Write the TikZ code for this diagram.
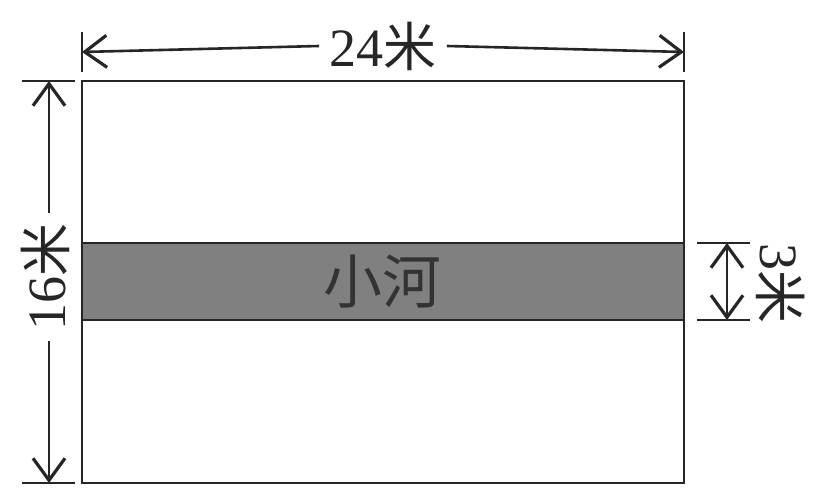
\documentclass[tikz,border=0pt]{standalone}
\usepackage{fontspec}
\setmainfont{Liberation Serif}
\newfontfamily\cjk[Scale=0.98]{Noto Sans CJK SC}
\usetikzlibrary{arrows.meta}

\begin{document}
\begin{tikzpicture}[x=0.5pt,y=-0.5pt,
    barb/.tip={Straight Barb[length=11pt,width=16pt,line width=1.6pt]},
    dim/.style={line width=1.3pt, draw=black!85, -barb},
    dimboth/.style={line width=1.3pt, draw=black!85, barb-barb},
    ext/.style={line width=1.3pt, draw=black!85},
    lbl/.style={font=\fontsize{27}{27}\selectfont, text=black!85, inner xsep=5pt, inner ysep=2pt}]
  \useasboundingbox (0,0) rectangle (825,502);

  % field and river
  \coordinate (fieldNW) at (82,81);
  \coordinate (fieldSE) at (684,483);
  \coordinate (riverNW) at (82,243);
  \coordinate (riverSE) at (684,320);
  \draw[ext] (fieldNW) rectangle (fieldSE);
  \draw[ext, fill=black!50] (riverNW) rectangle (riverSE);
  \node[lbl, text=black!80, font=\fontsize{30}{30}\selectfont] (river) at (382,282) {\cjk 小河};

  % width 24
  \coordinate (topL) at (82,52);
  \coordinate (topR) at (684,52);
  \draw[ext] (82,32) -- (82,72);
  \draw[ext] (684,32) -- (684,72);
  \node[lbl] (width) at (383,46) {24{\cjk 米}};
  \draw[dim] (width.west) -- (topL);
  \draw[dim] (width.east) -- (topR);

  % height 16
  \coordinate (leftT) at (49,81);
  \coordinate (leftB) at (49,483);
  \draw[ext] (22,81) -- (75,81);
  \draw[ext] (22,483) -- (75,483);
  \node[lbl, rotate=90] (height) at (45,277) {16{\cjk 米}};
  \draw[dim] (height.east -| leftT) -- (leftT);
  \draw[dim] (height.west -| leftB) -- (leftB);

  % river 3
  \coordinate (rightT) at (727,243);
  \coordinate (rightB) at (727,320);
  \draw[ext] (697,243) -- (750,243);
  \draw[ext] (697,320) -- (750,320);
  \draw[dimboth] (rightT) -- (rightB);
  \node[lbl, rotate=-90] (depth) at (781,283) {3{\cjk 米}};
\end{tikzpicture}
\end{document}
